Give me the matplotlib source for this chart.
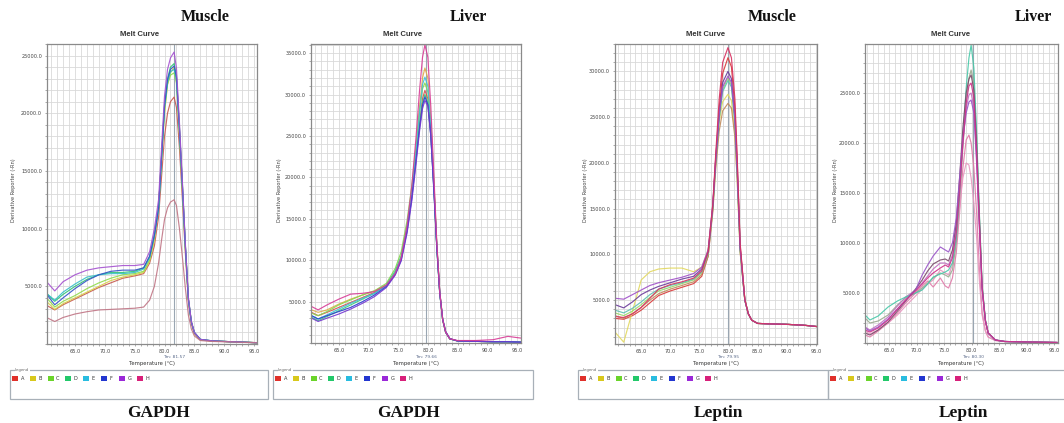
import matplotlib
matplotlib.use("Agg")
import matplotlib.pyplot as plt
from matplotlib.ticker import FixedLocator, MultipleLocator, FormatStrFormatter
from matplotlib.patches import Rectangle

# ---------------- data ----------------
wells = ["A", "B", "C", "D", "E", "F", "G", "H"]
legend_colors = ["#e0302a", "#d8c81c", "#6ad42a", "#22c86a", "#28bce0", "#2236d0", "#9a28d8", "#d8207a"]

tissues = ["Muscle", "Liver", "Muscle", "Liver"]
genes = ["GAPDH", "GAPDH", "Leptin", "Leptin"]
tm_values = [81.57, 79.66, 79.95, 80.3]
tm_labels = ["Tm: 81.57", "Tm: 79.66", "Tm: 79.95", "Tm: 80.30"]

# Panel 1 : Muscle / GAPDH
t_muscle_gapdh = [60.4, 61.6, 63, 65, 67, 69, 71, 73, 75, 76.5, 77.5, 78.3, 79, 79.5, 80, 80.5, 81, 81.6,
                  82, 82.5, 83, 83.5, 84, 84.5, 85, 86, 88, 91, 95.5]
mg_A = [3300, 2950, 3400, 3900, 4400, 4900, 5300, 5700, 5900, 6100, 7000, 8500, 11000, 14500, 18000, 20000, 21000, 21400,
        20500, 17000, 12500, 7800, 3700, 1800, 900, 350, 250, 200, 120]
mg_B = [3600, 3000, 3500, 4000, 4500, 5000, 5500, 5800, 6000, 6200, 7200, 9000, 12000, 16000, 20000, 22500, 23500, 24000,
        23000, 18500, 13500, 8300, 3900, 1900, 950, 380, 260, 200, 110]
mg_C = [3900, 3200, 3700, 4200, 4800, 5300, 5700, 6000, 6100, 6300, 7300, 9200, 11800, 16000, 20200, 22500, 23300, 23500,
        22600, 18200, 13300, 8200, 3800, 1900, 950, 380, 260, 200, 110]
mg_D = [4300, 3700, 4300, 5000, 5600, 6000, 6200, 6200, 6300, 6600, 7600, 9500, 11800, 16300, 20800, 23000, 24000, 24300,
        23300, 18800, 13800, 8500, 3900, 1900, 1000, 400, 270, 200, 110]
mg_E = [4300, 3800, 4500, 5200, 5800, 6000, 6100, 6100, 6200, 6500, 7500, 9400, 11700, 16000, 20500, 22700, 23600, 23800,
        22900, 18500, 13600, 8400, 3900, 1900, 1000, 400, 270, 200, 110]
mg_F = [4200, 3400, 4000, 4800, 5500, 6000, 6300, 6400, 6400, 6600, 7600, 9400, 11800, 16200, 20600, 22900, 23800, 24100,
        23100, 18700, 13700, 8400, 3900, 1900, 1000, 400, 270, 200, 110]
mg_G = [5300, 4600, 5400, 6000, 6400, 6600, 6700, 6800, 6800, 6900, 8000, 10000, 12500, 17000, 21500, 23800, 24800, 25300,
        23900, 19200, 14000, 8600, 4000, 1950, 1000, 400, 270, 200, 110]
mg_H = [2250, 1950, 2300, 2600, 2800, 2950, 3000, 3050, 3100, 3200, 3800, 5000, 7000, 9000, 10800, 11800, 12300, 12500,
        12000, 10000, 7500, 4800, 2500, 1300, 700, 300, 220, 180, 100]

# Panel 2 : Liver / GAPDH
t_liver_gapdh = [60.4, 61.5, 63, 65, 67, 69, 71, 73, 74.5, 75.5, 76.5, 77.3, 78, 78.6, 79.1, 79.5, 80, 80.5, 81,
                 81.5, 82, 82.5, 83, 83.7, 85, 88, 91, 93.5, 95.6]
lg_A = [3700, 3300, 3700, 4300, 4900, 5500, 6100, 6900, 8400, 10200, 13800, 17800, 22500, 26500, 29500, 30500, 29500, 25500,
        19000, 11800, 6100, 2800, 1300, 500, 250, 200, 150, 150, 100]
lg_B = [4000, 3700, 4000, 4700, 5300, 5800, 6300, 7000, 8500, 10300, 14000, 18500, 23500, 28500, 32000, 33200, 32000, 27000,
        19800, 12000, 6200, 2800, 1300, 500, 250, 200, 150, 150, 100]
lg_C = [3600, 3300, 3800, 4600, 5200, 5800, 6300, 7200, 9000, 11000, 14800, 19000, 23800, 28000, 30700, 31400, 30300, 26000,
        19200, 11800, 6100, 2800, 1300, 500, 250, 200, 150, 150, 100]
lg_D = [3100, 2700, 3200, 3900, 4600, 5300, 6000, 7000, 8700, 10500, 14000, 18000, 22500, 26500, 29000, 30000, 29000, 25000,
        18700, 11600, 6000, 2800, 1300, 500, 250, 200, 150, 150, 100]
lg_E = [3300, 2900, 3400, 4100, 4800, 5400, 6000, 6900, 8500, 10300, 14000, 18300, 23000, 27800, 31200, 32100, 31000, 26200,
        19300, 11800, 6100, 2800, 1300, 500, 250, 200, 150, 150, 100]
lg_F = [3300, 2900, 3300, 3800, 4300, 5000, 5800, 6800, 8300, 10000, 13500, 17500, 22000, 26000, 28700, 29700, 28800, 25000,
        18500, 11500, 6000, 2800, 1300, 500, 250, 200, 150, 150, 100]
lg_G = [3000, 2600, 3000, 3500, 4100, 4800, 5600, 6700, 8200, 9900, 13300, 17200, 21600, 25600, 28300, 29300, 28600, 25000,
        18800, 11800, 6200, 2900, 1400, 550, 250, 200, 150, 150, 100]
lg_H = [4400, 4000, 4600, 5300, 5900, 6000, 6200, 7000, 8400, 10300, 14200, 19000, 24800, 30500, 34500, 36000, 34500, 28500,
        20500, 12200, 6200, 2800, 1300, 500, 300, 300, 400, 800, 600]

# Panel 3 : Muscle / Leptin
t_muscle_leptin = [60.5, 62, 63.5, 65, 66.5, 68, 70, 72, 74, 75.4, 76.5, 77.3, 77.8, 78.4, 79, 79.9, 80.5, 81.1,
                   81.5, 82, 82.8, 83.4, 84, 85, 87, 90, 93, 95.3]
ml_A = [3000, 2900, 3300, 3900, 4700, 5500, 6000, 6400, 6800, 7600, 9800, 15000, 20500, 26000, 29800, 31500, 30500, 26000,
        20000, 11000, 5100, 3500, 2800, 2450, 2400, 2350, 2250, 2100]
ml_B = [1500, 400, 3800, 7200, 8100, 8400, 8500, 8500, 8100, 8600, 10500, 15300, 20000, 24500, 26700, 27500, 26800, 23200,
        18200, 10300, 5000, 3500, 2800, 2450, 2400, 2350, 2250, 2100]
ml_C = [3600, 3300, 3800, 4500, 5300, 6000, 6400, 6800, 7200, 8000, 10000, 15000, 20000, 25000, 28000, 29300, 28500, 24500,
        19000, 10500, 5000, 3500, 2800, 2450, 2400, 2350, 2250, 2100]
ml_D = [3300, 3000, 3500, 4200, 5000, 5700, 6200, 6600, 7000, 7800, 9800, 14600, 19300, 23500, 25700, 26500, 26000, 22800,
        18000, 10200, 5000, 3500, 2800, 2450, 2400, 2350, 2250, 2100]
ml_E = [3900, 3600, 4100, 4800, 5600, 6200, 6600, 6900, 7300, 8100, 10100, 15100, 20100, 24800, 27800, 29000, 28300, 24300,
        18800, 10500, 5000, 3500, 2800, 2450, 2400, 2350, 2250, 2100]
ml_F = [4500, 4150, 4800, 5600, 6100, 6500, 6900, 7300, 7600, 8400, 10300, 15300, 20300, 25300, 28800, 30000, 29200, 25000,
        19300, 10700, 5000, 3500, 2800, 2450, 2400, 2350, 2250, 2100]
ml_G = [5200, 5100, 5600, 6100, 6600, 6900, 7200, 7500, 7900, 8600, 10500, 15500, 20500, 25300, 28300, 29500, 28800, 24800,
        19300, 10800, 5000, 3500, 2800, 2450, 2400, 2350, 2250, 2100]
ml_H = [3200, 3100, 3500, 4200, 5200, 6200, 6700, 7000, 7400, 8200, 10300, 15500, 21000, 27000, 31000, 32600, 31500, 27000,
        20500, 11200, 5100, 3500, 2800, 2450, 2400, 2350, 2250, 2100]

# Panel 4 : Liver / Leptin
t_liver_leptin = [60.6, 61.5, 63, 64.8, 66.5, 68, 69.8, 71, 72, 73, 74.3, 75.2, 75.8, 76.5, 77.2, 77.8, 78.4, 79,
                  79.5, 79.9, 80.4, 80.9, 81.4, 81.9, 82.5, 83, 84.3, 86, 90, 95.5]
ll_A = [800, 600, 1200, 2000, 3000, 4000, 5000, 5700, 6200, 5600, 6500, 5700, 5500, 6500, 9000, 13000, 17500, 20300,
        20800, 20000, 17500, 13000, 7500, 3000, 1200, 600, 250, 150, 100, 50]
ll_B = [1200, 900, 1300, 2000, 2800, 3700, 4700, 5400, 5900, 6300, 7300, 7000, 6800, 7800, 10000, 13500, 16500, 18000,
        17800, 16500, 14000, 10500, 6200, 2800, 1200, 600, 250, 150, 100, 50]
ll_C = [2500, 2000, 2200, 2800, 3800, 4500, 5000, 5500, 6000, 6500, 7000, 6800, 6600, 7300, 10000, 14500, 19500, 24000,
        26500, 27300, 26000, 20500, 12800, 5700, 2300, 1000, 300, 150, 100, 50]
ll_D = [1600, 1300, 1800, 2600, 3700, 4600, 5300, 6000, 6700, 7400, 8000, 8000, 7800, 8800, 11500, 15500, 20000, 23500,
        24800, 25000, 23500, 18500, 11800, 5400, 2200, 1000, 300, 150, 100, 50]
ll_E = [2800, 2300, 2700, 3600, 4200, 4600, 5000, 5300, 5900, 6600, 6900, 7100, 7300, 8000, 10500, 15000, 20500, 25500,
        28500, 29800, 27500, 21000, 13000, 5800, 2300, 1000, 300, 150, 100, 50]
ll_F = [1000, 800, 1300, 2100, 3200, 4200, 5400, 6300, 7200, 7900, 8300, 8400, 8200, 9300, 12000, 16500, 21500, 25000,
        26400, 26800, 25300, 19800, 12500, 5600, 2200, 1000, 300, 150, 100, 50]
ll_G = [1500, 1200, 1600, 2400, 3400, 4300, 5300, 6800, 7800, 8700, 9600, 9300, 9100, 10000, 12500, 16500, 20500, 23000,
        24100, 24300, 23000, 18000, 11500, 5300, 2200, 1000, 300, 150, 100, 50]
ll_H = [1300, 1100, 1500, 2300, 3400, 4300, 5200, 5900, 6500, 7000, 7500, 7800, 7600, 8500, 11000, 15000, 20000, 24000,
        25700, 26000, 24500, 19000, 12000, 5500, 2200, 1000, 300, 150, 100, 50]

# ---------------- layout / style ----------------
W, H = 1064, 423
fig = plt.figure(figsize=(W / 100, H / 100), dpi=100)
fig.patch.set_facecolor("white")

def fx(px):
    return px / W

def fy(py):
    return 1 - py / H

panels = [
    dict(box=(47, 44, 257, 344), xlim=(60.3, 95.5), ylim=(0, 26000), ymax_tick=25000,
         t=t_muscle_gapdh, curves=[mg_A, mg_B, mg_C, mg_D, mg_E, mg_F, mg_G, mg_H],
         colors=["#c65a50", "#d8cf48", "#8fdc4a", "#2fc277", "#36c0c8", "#3452c8", "#a552d0", "#c07585"],
         ylab_x=14, leg=(10, 268), title_x=140, tissue_x=205, gene_x=158),
    dict(box=(311, 44, 521, 343), xlim=(60.3, 95.7), ylim=(0, 36100), ymax_tick=35000,
         t=t_liver_gapdh, curves=[lg_A, lg_B, lg_C, lg_D, lg_E, lg_F, lg_G, lg_H],
         colors=["#d65050", "#e0aa48", "#86d850", "#3ccc7a", "#40c0d8", "#2a3cd0", "#7436d0", "#d83c96"],
         ylab_x=280, leg=(273, 533), title_x=403, tissue_x=468, gene_x=408),
    dict(box=(615, 44, 817, 344), xlim=(60.5, 95.2), ylim=(200, 33000), ymax_tick=30000,
         t=t_muscle_leptin, curves=[ml_A, ml_B, ml_C, ml_D, ml_E, ml_F, ml_G, ml_H],
         colors=["#d83a3a", "#e2d860", "#98d868", "#c08a5a", "#5cc0b0", "#6a3a9a", "#a050c8", "#d83060"],
         ylab_x=585, leg=(578, 828), title_x=706, tissue_x=772, gene_x=718),
    dict(box=(865, 44, 1058, 343), xlim=(60.6, 95.7), ylim=(0, 29900), ymax_tick=25000,
         t=t_liver_leptin, curves=[ll_A, ll_B, ll_C, ll_D, ll_E, ll_F, ll_G, ll_H],
         colors=["#e07aa8", "#e898c0", "#9aaa90", "#c070c0", "#48c8a8", "#7a4a6a", "#9a55c8", "#d0308a"],
         ylab_x=836, leg=(828, 1070), title_x=951, tissue_x=1033, gene_x=963),
]

for i, p in enumerate(panels):
    l, t, r, b = p["box"]
    ax = fig.add_axes([fx(l), fy(b), fx(r) - fx(l), fy(t) - fy(b)])
    ax.set_xlim(*p["xlim"])
    ax.set_ylim(*p["ylim"])
    ax.xaxis.set_major_locator(FixedLocator([65, 70, 75, 80, 85, 90, 95]))
    ax.xaxis.set_minor_locator(MultipleLocator(1))
    ax.yaxis.set_major_locator(FixedLocator(list(range(5000, p["ymax_tick"] + 1, 5000))))
    ax.yaxis.set_minor_locator(MultipleLocator(1000))
    ax.xaxis.set_major_formatter(FormatStrFormatter("%.1f"))
    ax.yaxis.set_major_formatter(FormatStrFormatter("%.1f"))
    ax.grid(which="both", color="#d9d9d9", lw=0.6, zorder=0)
    ax.set_axisbelow(True)
    ax.tick_params(which="both", length=1.5, width=0.5, color="#888888",
                   labelsize=3.6, labelcolor="#444444", pad=2)
    for s in ax.spines.values():
        s.set_color("#8a8a8a")
        s.set_linewidth(0.9)
    ax.axvline(tm_values[i], color="#9aa6b2", lw=0.8, zorder=1)
    for vals, c in zip(p["curves"], p["colors"]):
        ax.plot(p["t"], vals, color=c, lw=0.85, alpha=0.9, zorder=2)

    # texts around the axes
    fig.text(fx(p["title_x"]), fy(34), "Melt Curve", ha="center", va="center",
             fontsize=5.5, fontweight="bold", family="Liberation Sans", color="#333333")
    fig.text(fx(p["tissue_x"]), fy(17), tissues[i], ha="center", va="center",
             fontsize=11.5, fontweight="bold", family="Liberation Serif", color="#111111")
    fig.text(fx(p["gene_x"]), fy(413), genes[i], ha="center", va="center",
             fontsize=12.5, fontweight="bold", family="Liberation Serif", color="#111111")
    fig.text(fx(p["ylab_x"]), fy(190), "Derivative Reporter (-Rn)", rotation=90, ha="center",
             va="center", fontsize=3.6, color="#444444")
    xm = (l + r) / 2
    fig.text(fx(xm), fy(363), "Temperature (\u00b0C)", ha="center", va="center",
             fontsize=3.8, color="#333333")
    tm_px = l + (tm_values[i] - p["xlim"][0]) / (p["xlim"][1] - p["xlim"][0]) * (r - l)
    fig.text(fx(tm_px), fy(357), tm_labels[i], ha="center", va="center",
             fontsize=3.2, color="#5a6a8a")

    # legend box
    lx0, lx1 = p["leg"]
    fig.add_artist(Rectangle((fx(lx0), fy(399)), fx(lx1) - fx(lx0), fy(370) - fy(399),
                             transform=fig.transFigure, fill=False, ec="#a8b0b8", lw=0.9))
    fig.text(fx(lx0 + 5), fy(370), "Legend", ha="left", va="center", fontsize=2.8,
             color="#666666", bbox=dict(fc="white", ec="none", pad=0.3))
    for k, (wname, wc) in enumerate(zip(wells, legend_colors)):
        sx = lx0 + 2 + k * 17.8
        fig.add_artist(Rectangle((fx(sx), fy(381)), fx(6), 5.5 / H,
                                 transform=fig.transFigure, fc=wc, ec="none"))
        fig.text(fx(sx + 8.5), fy(378.3), wname, ha="left", va="center", fontsize=3.6,
                 color="#333333")

fig.savefig("out.png", dpi=100, facecolor="white")
